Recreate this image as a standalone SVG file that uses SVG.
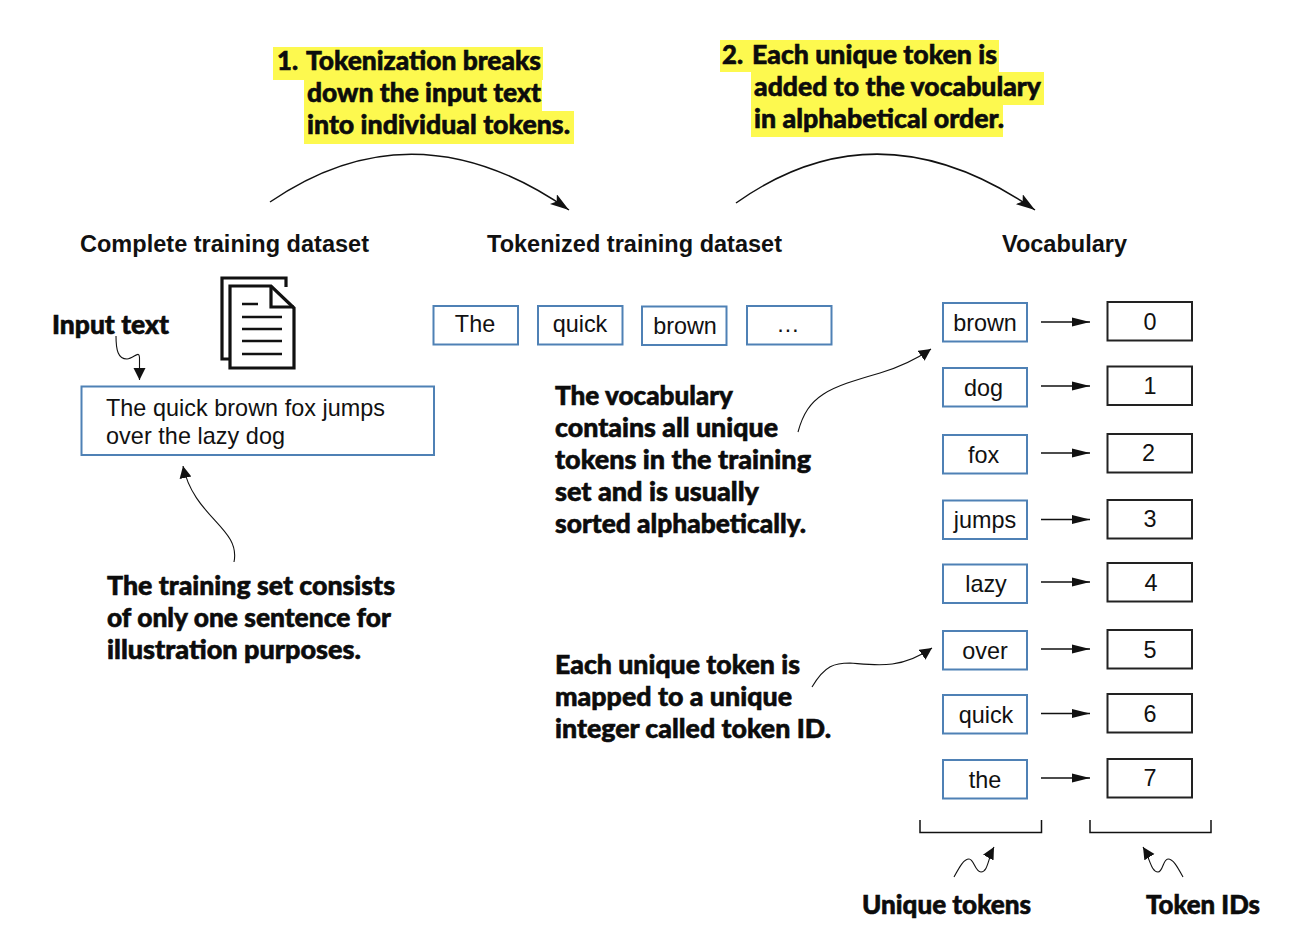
<svg xmlns="http://www.w3.org/2000/svg" width="1292" height="936" viewBox="0 0 1292 936">
<style>
.a{font-family:Lato,"Open Sans",sans-serif;font-weight:900;font-size:27px;fill:#0c0c0c;stroke:#0c0c0c;stroke-width:.6}
.h{font-family:"Liberation Sans",Arial,sans-serif;font-weight:700;font-size:23.500px;fill:#111}
.t{font-family:"Liberation Sans",Arial,sans-serif;font-size:23.400px;fill:#111;text-anchor:middle}
.l{font-family:"Liberation Sans",Arial,sans-serif;font-size:23.400px;fill:#111}
.b{fill:#fff;stroke:#4f81b5;stroke-width:2}
.k{fill:#fff;stroke:#222;stroke-width:2}
.y{fill:#fdf94f}
.c{fill:none;stroke:#111;stroke-width:1.1}
.m{fill:none;stroke:#111;stroke-width:1.5}
.d{fill:none;stroke:#111;stroke-width:3.2}
.e{fill:none;stroke:#111;stroke-width:2.4}
</style>
<defs>
<marker id="arc" markerUnits="userSpaceOnUse" markerWidth="22" markerHeight="14" refX="19" refY="6" orient="auto"><path d="M0 0L19 6L0 12L4 6Z" fill="#111"/></marker>
<marker id="rt" markerUnits="userSpaceOnUse" markerWidth="20" markerHeight="12" refX="18" refY="5" orient="auto"><path d="M0 0.500L18 5L0 9.500Z" fill="#111"/></marker>
<marker id="ct" markerUnits="userSpaceOnUse" markerWidth="14" markerHeight="14" refX="12" refY="6" orient="auto"><path d="M0 0L12 6L0 12Z" fill="#111"/></marker>
</defs>
<g id="highlights">
<path class="y" d="M273 47H543V80H542V111H574V144H304V80H273Z"/>
<path class="y" d="M720 40H999V72H1044V105H1003V137H751V72H720Z"/>
</g>
<g id="annotations">
<text class="a" x="277" y="70" textLength="21" lengthAdjust="spacingAndGlyphs">1.</text>
<text class="a" x="306" y="70" textLength="235" lengthAdjust="spacingAndGlyphs">Tokenization breaks</text>
<text class="a" x="307" y="102" textLength="234" lengthAdjust="spacingAndGlyphs">down the input text</text>
<text class="a" x="307" y="134" textLength="263" lengthAdjust="spacingAndGlyphs">into individual tokens.</text>
<text class="a" x="722" y="64" textLength="21" lengthAdjust="spacingAndGlyphs">2.</text>
<text class="a" x="752" y="64" textLength="245" lengthAdjust="spacingAndGlyphs">Each unique token is</text>
<text class="a" x="754" y="96" textLength="287" lengthAdjust="spacingAndGlyphs">added to the vocabulary</text>
<text class="a" x="754" y="128" textLength="250" lengthAdjust="spacingAndGlyphs">in alphabetical order.</text>
<text class="a" x="52" y="334" textLength="117" lengthAdjust="spacingAndGlyphs">Input text</text>
<text class="a" x="107" y="595" textLength="288" lengthAdjust="spacingAndGlyphs">The training set consists</text>
<text class="a" x="107" y="627" textLength="284" lengthAdjust="spacingAndGlyphs">of only one sentence for</text>
<text class="a" x="107" y="659" textLength="254" lengthAdjust="spacingAndGlyphs">illustration purposes.</text>
<text class="a" x="555" y="405" textLength="178" lengthAdjust="spacingAndGlyphs">The vocabulary</text>
<text class="a" x="555" y="437" textLength="223" lengthAdjust="spacingAndGlyphs">contains all unique</text>
<text class="a" x="555" y="469" textLength="256" lengthAdjust="spacingAndGlyphs">tokens in the training</text>
<text class="a" x="555" y="501" textLength="204" lengthAdjust="spacingAndGlyphs">set and is usually</text>
<text class="a" x="555" y="533" textLength="251" lengthAdjust="spacingAndGlyphs">sorted alphabetically.</text>
<text class="a" x="555" y="674" textLength="245" lengthAdjust="spacingAndGlyphs">Each unique token is</text>
<text class="a" x="555" y="706" textLength="237" lengthAdjust="spacingAndGlyphs">mapped to a unique</text>
<text class="a" x="555" y="738" textLength="276" lengthAdjust="spacingAndGlyphs">integer called token ID.</text>
<text class="a" x="862" y="914" textLength="169" lengthAdjust="spacingAndGlyphs">Unique tokens</text>
<text class="a" x="1146" y="914" textLength="114" lengthAdjust="spacingAndGlyphs">Token IDs</text>
</g>
<g id="headings">
<text class="h" x="80" y="252" textLength="289">Complete training dataset</text>
<text class="h" x="487" y="252" textLength="295">Tokenized training dataset</text>
<text class="h" x="1002" y="252" textLength="125">Vocabulary</text>
</g>
<g id="document-icon">
<path class="d" d="M229 359H222V278H286V287"/>
<path class="d" d="M230 286H271L294 308V368H230Z"/>
<path class="d" d="M271 286V307H294"/>
<path class="e" d="M242 304H258M242 317H282M242 329H282M242 341H282M242 354H282"/>
</g>
<g id="input-text">
<rect class="b" x="81.500" y="386.500" width="352.500" height="68.500"/>
<text class="l" x="106" y="416" textLength="279">The quick brown fox jumps</text>
<text class="l" x="106" y="444" textLength="179">over the lazy dog</text>
</g>
<g id="token-the"><rect class="b" x="433.500" y="306" width="84.500" height="38.500"/><text class="t" x="475" y="332">The</text></g>
<g id="token-quick"><rect class="b" x="538" y="306" width="84.500" height="38.500"/><text class="t" x="580" y="332">quick</text></g>
<g id="token-brown"><rect class="b" x="642" y="306.500" width="84.500" height="38.500"/><text class="t" x="685" y="334">brown</text></g>
<g id="token-ellipsis"><rect class="b" x="747" y="306" width="84.500" height="38.500"/><text class="t" x="788" y="332">…</text></g>
<g id="vocab-brown"><rect class="b" x="943" y="303" width="84" height="38.500"/><text class="t" x="985" y="331">brown</text></g>
<g id="vocab-dog"><rect class="b" x="943" y="368" width="84" height="38.500"/><text class="t" x="983.500" y="396">dog</text></g>
<g id="vocab-fox"><rect class="b" x="943" y="435" width="84" height="38.500"/><text class="t" x="983.500" y="463">fox</text></g>
<g id="vocab-jumps"><rect class="b" x="943" y="500.500" width="84" height="38.500"/><text class="t" x="985" y="528">jumps</text></g>
<g id="vocab-lazy"><rect class="b" x="943" y="564.500" width="84" height="38.500"/><text class="t" x="986" y="592">lazy</text></g>
<g id="vocab-over"><rect class="b" x="943" y="631" width="84" height="38.500"/><text class="t" x="985" y="659">over</text></g>
<g id="vocab-quick"><rect class="b" x="943" y="695" width="84" height="38.500"/><text class="t" x="986" y="723">quick</text></g>
<g id="vocab-the"><rect class="b" x="943" y="760" width="84" height="38.500"/><text class="t" x="985" y="788">the</text></g>
<g id="id-0"><rect class="k" x="1107.500" y="302" width="84.500" height="38.500"/><text class="t" x="1150" y="330">0</text></g>
<g id="id-1"><rect class="k" x="1107.500" y="366.500" width="84.500" height="38.500"/><text class="t" x="1150" y="394">1</text></g>
<g id="id-2"><rect class="k" x="1107.500" y="434" width="84.500" height="38.500"/><text class="t" x="1148.500" y="461">2</text></g>
<g id="id-3"><rect class="k" x="1107.500" y="500" width="84.500" height="38.500"/><text class="t" x="1150" y="527">3</text></g>
<g id="id-4"><rect class="k" x="1107.500" y="563" width="84.500" height="38.500"/><text class="t" x="1151" y="591">4</text></g>
<g id="id-5"><rect class="k" x="1107.500" y="630" width="84.500" height="38.500"/><text class="t" x="1150" y="658">5</text></g>
<g id="id-6"><rect class="k" x="1107.500" y="694" width="84.500" height="38.500"/><text class="t" x="1150" y="722">6</text></g>
<g id="id-7"><rect class="k" x="1107.500" y="759" width="84.500" height="38.500"/><text class="t" x="1150" y="786">7</text></g>
<g id="brackets">
<path class="m" d="M920 820V832.500H1041.500V820"/>
<path class="m" d="M1090 820V832.500H1211V820"/>
</g>
<g id="connectors">
<path class="m" marker-end="url(#arc)" d="M270 202C350 147 450 127 569 210"/>
<path class="m" marker-end="url(#arc)" d="M736 203C815 147 915 127 1035 210"/>
<path class="m" marker-end="url(#rt)" d="M1041 322H1090"/>
<path class="m" marker-end="url(#rt)" d="M1041 386H1090"/>
<path class="m" marker-end="url(#rt)" d="M1041 453H1090"/>
<path class="m" marker-end="url(#rt)" d="M1041 519.500H1090"/>
<path class="m" marker-end="url(#rt)" d="M1041 582H1090"/>
<path class="m" marker-end="url(#rt)" d="M1041 649H1090"/>
<path class="m" marker-end="url(#rt)" d="M1041 713.500H1090"/>
<path class="m" marker-end="url(#rt)" d="M1041 778H1090"/>
<path class="c" marker-end="url(#ct)" d="M116 336C116 350 118 359 127 359C134 359 140 348 139.500 360V380"/>
<path class="c" marker-end="url(#ct)" d="M234 562C241 528 194 518 183 466"/>
<path class="c" marker-end="url(#ct)" d="M798 432C808 395 828 388 880 373C900 367 918 358 931 349"/>
<path class="c" marker-end="url(#ct)" d="M812 687C825 665 835 663 850 663C875 665 900 670 932 648"/>
<path class="c" marker-end="url(#ct)" d="M954 877C960 866 964 859 969 859C974 859 975 872 981 872C988 872 988 858 994 847"/>
<path class="c" marker-end="url(#ct)" d="M1183 877C1177 866 1173 859 1168 859C1163 859 1163 872 1158 872C1151 872 1150 858 1143 847"/>
</g>
</svg>
